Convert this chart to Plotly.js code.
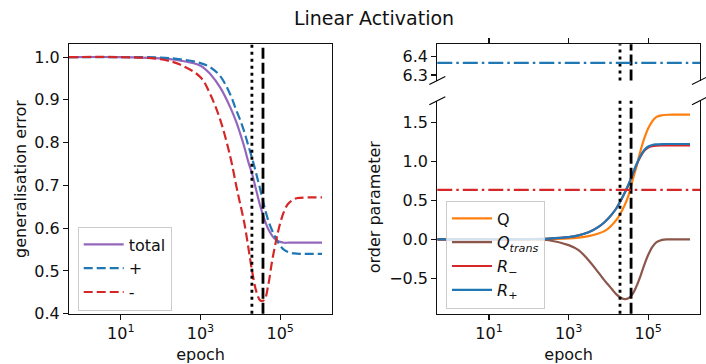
<!DOCTYPE html>
<html><head><meta charset="utf-8">
<script src="https://cdn.plot.ly/plotly-3.0.1.min.js"></script>
<style>html,body{margin:0;padding:0;background:#fff}</style>
</head><body><div id="chart" style="width:706px;height:364px"></div>
<script>
// epochs (shared grid for all curves)
const epochs = [0.5, 10, 100, 316, 1000, 1778, 3162, 5623, 7943, 10000, 12589, 15849, 19953, 25119, 31623, 39811, 50119, 63096, 79433, 100000, 125893, 158489, 223872, 316228, 562341, 1120000];

// left panel: generalisation error
const errTotal = [1.0, 1.0, 0.997, 0.992, 0.980, 0.960, 0.928, 0.882, 0.848, 0.820, 0.790, 0.755, 0.725, 0.688, 0.652, 0.622, 0.598, 0.582, 0.572, 0.568, 0.566, 0.566, 0.566, 0.566, 0.566, 0.566];
const errPlus  = [1.0, 1.0, 0.999, 0.995, 0.986, 0.976, 0.955, 0.912, 0.875, 0.852, 0.825, 0.793, 0.762, 0.727, 0.690, 0.652, 0.618, 0.594, 0.575, 0.559, 0.549, 0.544, 0.541, 0.540, 0.540, 0.540];
const errMinus = [1.0, 1.0, 0.995, 0.982, 0.953, 0.912, 0.852, 0.766, 0.698, 0.655, 0.612, 0.555, 0.497, 0.452, 0.431, 0.432, 0.467, 0.525, 0.572, 0.612, 0.640, 0.657, 0.668, 0.671, 0.672, 0.672];

// right panel: order parameters
const ordQ      = [0, 0, 0.001, 0.004, 0.012, 0.022, 0.040, 0.075, 0.105, 0.140, 0.190, 0.250, 0.330, 0.430, 0.560, 0.750, 0.930, 1.130, 1.300, 1.430, 1.520, 1.575, 1.598, 1.605, 1.606, 1.606];
const ordQtrans = [0, 0, -0.002, -0.012, -0.075, -0.140, -0.270, -0.430, -0.530, -0.590, -0.650, -0.710, -0.750, -0.770, -0.760, -0.710, -0.610, -0.480, -0.330, -0.200, -0.100, -0.040, -0.008, -0.001, 0, 0];
const ordRminus = [0, 0, 0.003, 0.009, 0.027, 0.050, 0.090, 0.160, 0.220, 0.270, 0.330, 0.400, 0.490, 0.590, 0.700, 0.830, 0.955, 1.060, 1.140, 1.183, 1.200, 1.207, 1.210, 1.210, 1.210, 1.210];
const ordRplus  = [0, 0, 0.003, 0.009, 0.027, 0.050, 0.090, 0.160, 0.220, 0.270, 0.330, 0.400, 0.490, 0.590, 0.700, 0.830, 0.960, 1.070, 1.150, 1.195, 1.215, 1.223, 1.227, 1.228, 1.228, 1.228];

// reference levels
const rMinusTarget = 0.6366;
const rPlusTarget = 6.366;
// marked epochs
const epochDotted = 19500;
const epochDashed = 37000;

// ticks
const xTickVals = [10, 1000, 100000];
const xTickText = ['10<sup>1</sup>', '10<sup>3</sup>', '10<sup>5</sup>'];

const W = 706, H = 364;
const px = x => x / W;
const py = y => 1 - y / H;

const C = {purple:'#9467bd', blue:'#1f77b4', red:'#d62728', orange:'#ff7f0e', brown:'#8c564b'};
const LW = 2.2;

const traces = [
  {x:epochs, y:errTotal, name:'total', xaxis:'x', yaxis:'y', mode:'lines', line:{color:C.purple, width:LW, shape:'spline'}, legend:'legend'},
  {x:epochs, y:errPlus, name:'+', xaxis:'x', yaxis:'y', mode:'lines', line:{color:C.blue, width:LW, dash:'9px,4px', shape:'spline'}, legend:'legend'},
  {x:epochs, y:errMinus, name:'-', xaxis:'x', yaxis:'y', mode:'lines', line:{color:C.red, width:LW, dash:'9px,4px', shape:'spline'}, legend:'legend'},
  {x:epochs, y:ordQ, name:'Q', xaxis:'x2', yaxis:'y2', mode:'lines', line:{color:C.orange, width:LW, shape:'spline'}, legend:'legend2'},
  {x:epochs, y:ordQtrans, name:'<i>Q</i><sub><i>trans</i></sub>', xaxis:'x2', yaxis:'y2', mode:'lines', line:{color:C.brown, width:LW, shape:'spline'}, legend:'legend2'},
  {x:epochs, y:ordRminus, name:'<i>R</i><sub>−</sub>', xaxis:'x2', yaxis:'y2', mode:'lines', line:{color:C.red, width:LW, shape:'spline'}, legend:'legend2'},
  {x:epochs, y:ordRplus, name:'<i>R</i><sub>+</sub>', xaxis:'x2', yaxis:'y2', mode:'lines', line:{color:C.blue, width:LW, shape:'spline'}, legend:'legend2'}
];

const FS = 16;
function ax(extra) {
  return Object.assign({showgrid:false, zeroline:false, showline:true, linecolor:'#111', linewidth:1.1,
    ticks:'outside', ticklen:5, tickwidth:1.1, tickcolor:'#111', tickfont:{size:FS, color:'#111'}}, extra);
}

const xDomL = [px(69), px(332)];
const xDomR = [px(437.3), px(700)];
const yDomL = [py(313.7), py(44.3)];
const yDomRB = [py(313.7), py(100.7)];
const yDomRT = [py(80.5), py(44.3)];

function vlines(xref, yref) {
  return [
    {type:'line', xref:xref, yref:yref + ' domain', x0:epochDotted, x1:epochDotted, y0:0, y1:1, line:{color:'#000', width:2.8, dash:'3px,4px'}},
    {type:'line', xref:xref, yref:yref + ' domain', x0:epochDashed, x1:epochDashed, y0:0, y1:1, line:{color:'#000', width:2.8, dash:'11px,4px'}}
  ];
}
function brk(xp, yp) {
  return {type:'line', xref:'paper', yref:'paper', x0:px(xp - 8), x1:px(xp + 8), y0:py(yp + 4), y1:py(yp - 4), line:{color:'#000', width:1.1}};
}

const shapes = [].concat(
  vlines('x', 'y'), vlines('x2', 'y2'), vlines('x3', 'y3'),
  [
    {type:'line', xref:'x2 domain', yref:'y2', x0:0, x1:1, y0:rMinusTarget, y1:rMinusTarget, line:{color:C.red, width:LW, dash:'15px,4px,2.5px,4px'}},
    {type:'line', xref:'x3 domain', yref:'y3', x0:0, x1:1, y0:rPlusTarget, y1:rPlusTarget, line:{color:C.blue, width:LW, dash:'15px,4px,2.5px,4px'}},
    brk(437.3, 80.5), brk(700, 80.5), brk(437.3, 100.7), brk(700, 100.7)
  ]
);

const legendStyle = {bgcolor:'rgba(255,255,255,0.8)', bordercolor:'#cccccc', borderwidth:1, font:{size:FS, color:'#111'}, xanchor:'left', yanchor:'top', traceorder:'normal', itemwidth:40};

const layout = {
  width:W, height:H, margin:{l:0, r:0, t:0, b:0},
  paper_bgcolor:'#fff', plot_bgcolor:'#fff',
  font:{family:'DejaVu Sans', size:FS, color:'#111'},
  title:{text:'Linear Activation', font:{size:19, color:'#111'}, x:px(374), xanchor:'center', y:py(18), yanchor:'middle'},
  showlegend:true,
  legend:Object.assign({x:px(77.7), y:py(226.5)}, legendStyle),
  legend2:Object.assign({x:px(446), y:py(200.5)}, legendStyle),
  xaxis:ax({type:'log', range:[-0.3, 6.3], domain:xDomL, anchor:'y', mirror:true, tickvals:xTickVals, ticktext:xTickText,
    title:{text:'epoch', font:{size:FS}, standoff:7}}),
  yaxis:ax({range:[0.4, 1.03], domain:yDomL, anchor:'x', mirror:true, tick0:0.4, dtick:0.1, tickformat:'.1f',
    title:{text:'generalisation error', font:{size:FS}, standoff:3}}),
  xaxis2:ax({type:'log', range:[-0.3, 6.3], domain:xDomR, anchor:'y2', tickvals:xTickVals, ticktext:xTickText,
    title:{text:'epoch', font:{size:FS}, standoff:7}}),
  yaxis2:ax({range:[-0.959, 1.786], domain:yDomRB, anchor:'x2', mirror:true, tick0:0, dtick:0.5, tickformat:'.1f',
    title:{text:'order parameter', font:{size:FS}, standoff:4}}),
  xaxis3:ax({type:'log', range:[-0.3, 6.3], domain:xDomR, anchor:'y3', side:'top', tickvals:xTickVals, ticktext:xTickText, showticklabels:false}),
  yaxis3:ax({range:[6.27, 6.468], domain:yDomRT, anchor:'x3', mirror:true, tickvals:[6.3, 6.4], ticktext:['6.3', '6.4']}),
  shapes:shapes
};

Plotly.newPlot('chart', traces, layout, {displayModeBar:false, staticPlot:true});
</script>
</body></html>
